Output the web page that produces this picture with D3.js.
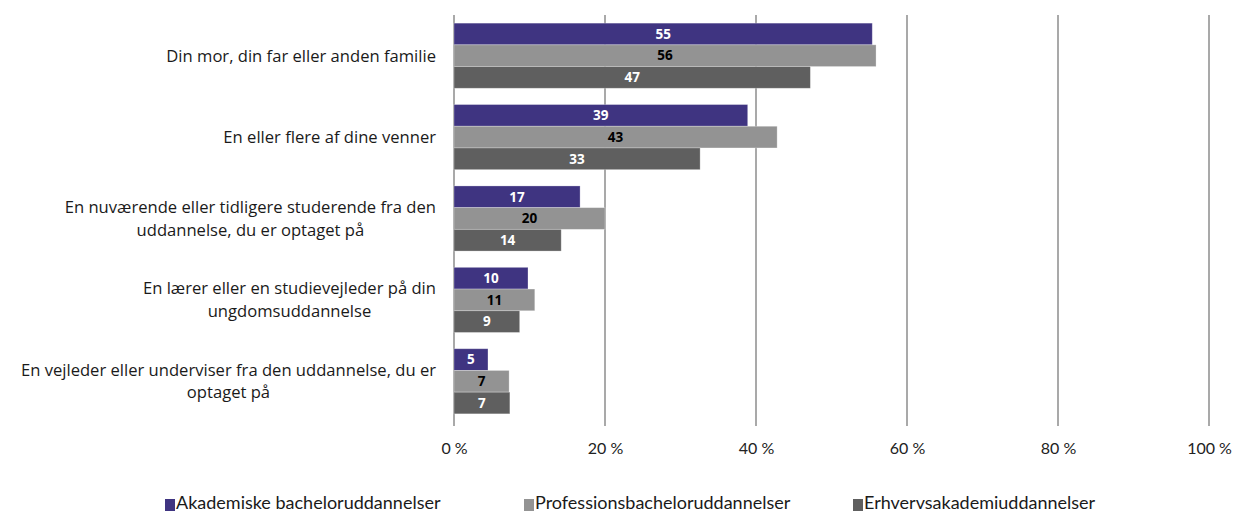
<!DOCTYPE html>
<html>
<head>
<meta charset="utf-8">
<script src="https://cdn.jsdelivr.net/npm/d3@7"></script>
<style>
  html, body { margin: 0; padding: 0; background: #fff; }
  svg { display: block; }
  text { font-family: Lato, "Noto Sans", sans-serif; }
</style>
</head>
<body>
<svg id="chart" width="1234" height="512"></svg>
<script>
// ---- data ----
const categories = [
  "Din mor, din far eller anden familie",
  "En eller flere af dine venner",
  "En nuværende eller tidligere studerende fra den\nuddannelse, du er optaget på",
  "En lærer eller en studievejleder på din\nungdomsuddannelse",
  "En vejleder eller underviser fra den uddannelse, du er\noptaget på"
];
const seriesNames = [
  "Akademiske bacheloruddannelser",
  "Professionsbacheloruddannelser",
  "Erhvervsakademiuddannelser"
];
const akademiske = [55.4, 38.9, 16.7, 9.8, 4.5];
const professions = [55.9, 42.8, 20.0, 10.7, 7.3];
const erhvervs = [47.2, 32.6, 14.2, 8.7, 7.4];
const tickValues = [0, 20, 40, 60, 80, 100];

const seriesValues = [akademiske, professions, erhvervs];
const colors = ["#3f3481", "#939393", "#5f5f5f"];
const labelColors = ["#ffffff", "#000000", "#ffffff"];

// ---- layout ----
const svg = d3.select("#chart");
const x = d3.scaleLinear().domain([0, 100]).range([454, 1209]);
const y = d3.scaleBand().domain(categories).range([15, 422]).paddingInner(0.2).paddingOuter(0.1);
const ySub = d3.scaleBand().domain(seriesNames).range([0, y.bandwidth()]);

// gridlines
svg.append("g").selectAll("line").data(tickValues).join("line")
  .attr("x1", d => x(d)).attr("x2", d => x(d))
  .attr("y1", 15).attr("y2", 426)
  .attr("stroke", "#8c8c8c").attr("stroke-width", 1.5);

// x axis labels
const xAxis = d3.axisBottom(x).tickValues(tickValues).tickFormat(d => d + " %").tickSize(0).tickPadding(0);
const gx = svg.append("g").attr("transform", "translate(0,443)").call(xAxis);
gx.select(".domain").remove();
gx.selectAll("text").style("font-size", "16px").attr("fill", "#222").style("font-family", "Lato, sans-serif");

// bars
const rows = categories.map((c, i) => ({ cat: c, vals: seriesNames.map((s, k) => ({ s, k, v: seriesValues[k][i] })) }));
const groups = svg.append("g").selectAll("g").data(rows).join("g")
  .attr("transform", d => `translate(0,${y(d.cat)})`);

groups.selectAll("rect").data(d => d.vals).join("rect")
  .attr("x", x(0))
  .attr("y", d => ySub(d.s))
  .attr("width", d => x(d.v) - x(0))
  .attr("height", ySub.bandwidth())
  .attr("fill", d => colors[d.k])
  .attr("stroke", "#ffffff").attr("stroke-opacity", 0.35).attr("stroke-width", 0.8);

groups.selectAll("text.val").data(d => d.vals).join("text")
  .attr("class", "val")
  .attr("x", d => (x(0) + x(d.v)) / 2)
  .attr("y", d => ySub(d.s) + ySub.bandwidth() / 2)
  .attr("dy", "0.35em")
  .attr("text-anchor", "middle")
  .style("font-size", "13.5px").style("font-weight", "bold")
  .style("font-family", "'Open Sans', sans-serif")
  .attr("fill", d => labelColors[d.k])
  .text(d => Math.round(d.v));

// category labels
const lineH = 22.5;
const labelRight = 436;
const catG = svg.append("g");
categories.forEach(c => {
  const lines = c.split("\n");
  const t = catG.append("text")
    .style("font-size", "16.6px").style("font-family", "'Open Sans', 'Noto Sans', sans-serif")
    .attr("fill", "#1a1a1a").attr("text-anchor", "middle");
  const cy = y(c) + y.bandwidth() / 2;
  lines.forEach((ln, j) => {
    t.append("tspan").attr("y", cy + (j - (lines.length - 1) / 2) * lineH).attr("dy", "0.35em").text(ln);
  });
  // measure widest line, center block so its right edge is at labelRight
  let maxW = 0;
  t.selectAll("tspan").each(function () { maxW = Math.max(maxW, this.getComputedTextLength()); });
  t.selectAll("tspan").attr("x", labelRight - maxW / 2);
});

// legend
const legendX = [165, 524, 853];
const leg = svg.append("g").selectAll("g").data(seriesNames).join("g")
  .attr("transform", (d, i) => `translate(${legendX[i]},0)`);
leg.append("rect").attr("x", 0).attr("y", 499).attr("width", 10).attr("height", 12)
  .attr("fill", (d, i) => colors[i]);
leg.append("text").attr("x", 11).attr("y", 509).style("font-size", "18px").attr("fill", "#1a1a1a").text(d => d);
</script>
</body>
</html>
